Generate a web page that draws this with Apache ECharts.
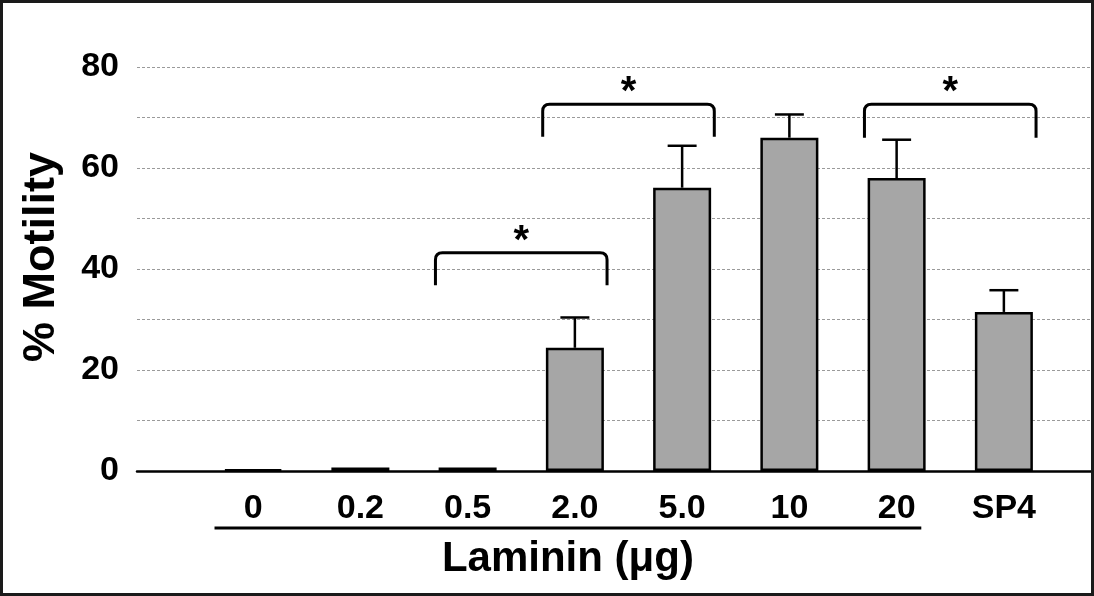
<!DOCTYPE html>
<html>
<head>
<meta charset="utf-8">
<style>
  html, body { margin: 0; padding: 0; background: #fff; }
  #chart { width: 1094px; height: 596px; }
</style>
<script src="https://cdn.jsdelivr.net/npm/echarts@6/dist/echarts.min.js"></script>
</head>
<body>
<div id="chart"></div>
<script>
// Laminin dose groups plus the SP4 condition
const categories = ['0', '0.2', '0.5', '2.0', '5.0', '10', '20', 'SP4'];
// Mean % motility per condition
const motility = [0.3, 0.7, 0.7, 24.4, 56.1, 66.0, 58.0, 31.5];
// Upper error (SD) per condition
const errorUp = [0, 0, 0, 6.0, 8.3, 4.6, 7.6, 4.3];
// Labelled ticks on the value axis
const yTickLabels = [0, 20, 40, 60, 80];
// Significance brackets: [fromIndex, toIndex, topValue, legValue, mark]
const brackets = [
  [2, 3, 43.2, 36.8, '*'],
  [3, 4, 72.6, 66.2, '*'],
  [6, 7, 72.6, 66.0, '*']
];
// Group underline spanning the laminin doses: [fromIndex, toIndex, label]
const groups = [[0, 6, 'Laminin (μg)']];

const FONT = '"Liberation Sans", Arial, Helvetica, sans-serif';

const chart = echarts.init(document.getElementById('chart'), null, { renderer: 'canvas' });

const option = {
  animation: false,
  backgroundColor: '#fff',
  grid: [
    // background grid: gridlines, value labels, baseline
    { left: 137, right: 2, top: 67, bottom: 125 },
    // bar grid
    { left: 199.5, right: 36.5, top: 67, bottom: 125 }
  ],
  xAxis: [
    {
      gridIndex: 0, type: 'value', min: 0, max: 1,
      axisLine: { show: true, onZero: false, lineStyle: { color: '#000', width: 2.5 } },
      axisTick: { show: false }, axisLabel: { show: false }, splitLine: { show: false }
    },
    {
      gridIndex: 1, type: 'category', data: categories,
      axisLine: { show: false }, axisTick: { show: false },
      axisLabel: {
        margin: 21, color: '#000', fontFamily: FONT, fontWeight: 'bold', fontSize: 34
      }
    }
  ],
  yAxis: [
    {
      gridIndex: 0, type: 'value', min: 0, max: 80, interval: 10,
      axisLine: { show: false }, axisTick: { show: false },
      axisLabel: {
        margin: 18, color: '#000', fontFamily: FONT, fontWeight: 'bold', fontSize: 34,
        formatter: v => (yTickLabels.indexOf(v) >= 0 ? String(v) : '')
      },
      splitLine: {
        show: true,
        lineStyle: { color: '#9a9a9a', width: 1, type: [3, 2] }
      }
    },
    {
      gridIndex: 1, type: 'value', min: 0, max: 80, show: false,
      splitLine: { show: false }
    }
  ],
  graphic: [
    {
      type: 'rect', z: 100, silent: true,
      shape: { x: 1.5, y: 1.5, width: 1091, height: 593 },
      style: { fill: 'none', stroke: '#1a1a1a', lineWidth: 3 }
    },
    {
      type: 'text', x: 42, y: 257, rotation: Math.PI / 2,
      style: {
        text: '% Motility', fill: '#000', font: 'bold 45px ' + FONT,
        align: 'center', verticalAlign: 'middle'
      }
    }
  ],
  series: [
    {
      type: 'bar', xAxisIndex: 1, yAxisIndex: 1,
      data: motility, barWidth: 58,
      itemStyle: { color: '#a6a6a6', borderColor: '#000', borderWidth: 2.5 },
      z: 2
    },
    {
      // error bars above each bar
      type: 'custom', xAxisIndex: 1, yAxisIndex: 1, clip: false, z: 3,
      data: categories.map((c, i) => [i, motility[i], errorUp[i]]),
      encode: { x: 0, y: 1 },
      renderItem: function (params, api) {
        const i = api.value(0), v = api.value(1), e = api.value(2);
        if (!e) return null;
        const base = api.coord([i, v]);
        const top = api.coord([i, v + e]);
        const half = api.size([1, 0])[0] * 0.135;
        const st = { stroke: '#000', lineWidth: 2.5 };
        return {
          type: 'group',
          children: [
            { type: 'line', shape: { x1: base[0], y1: base[1], x2: top[0], y2: top[1] }, style: st },
            { type: 'line', shape: { x1: top[0] - half, y1: top[1], x2: top[0] + half, y2: top[1] }, style: st }
          ]
        };
      }
    },
    {
      // significance brackets with their marks
      type: 'custom', xAxisIndex: 1, yAxisIndex: 1, clip: false, z: 4,
      data: brackets,
      encode: { x: [0, 1], y: [2, 3] },
      renderItem: function (params, api) {
        const from = api.value(0), to = api.value(1);
        const topV = api.value(2), legV = api.value(3);
        const mark = brackets[params.dataIndex][4];
        const w = api.size([1, 0])[0];
        const pL = api.coord([from, topV]);
        const pR = api.coord([to, topV]);
        const yLeg = api.coord([from, legV])[1];
        const x0 = pL[0] - 0.3 * w, x1 = pR[0] + 0.3 * w, yT = pL[1];
        const r = 7;
        const d = 'M' + x0 + ' ' + yLeg +
          ' L' + x0 + ' ' + (yT + r) +
          ' Q' + x0 + ' ' + yT + ' ' + (x0 + r) + ' ' + yT +
          ' L' + (x1 - r) + ' ' + yT +
          ' Q' + x1 + ' ' + yT + ' ' + x1 + ' ' + (yT + r) +
          ' L' + x1 + ' ' + yLeg;
        return {
          type: 'group',
          children: [
            {
              type: 'path', shape: { pathData: d },
              style: { fill: 'none', stroke: '#000', lineWidth: 3, lineJoin: 'round' }
            },
            {
              type: 'text', x: (x0 + x1) / 2, y: yT - 11,
              style: {
                text: mark, fill: '#000', font: 'bold 40px ' + FONT,
                align: 'center', verticalAlign: 'middle'
              }
            }
          ]
        };
      }
    },
    {
      // underline grouping the laminin doses, with the group label
      type: 'custom', xAxisIndex: 1, yAxisIndex: 1, clip: false, z: 4,
      data: groups.map(g => [g[0], g[1]]),
      encode: { x: [0, 1] },
      renderItem: function (params, api) {
        const g = groups[params.dataIndex];
        const w = api.size([1, 0])[0];
        const baseY = api.coord([g[0], 0])[1];
        const x0 = api.coord([g[0], 0])[0] - 0.36 * w;
        const x1 = api.coord([g[1], 0])[0] + 0.23 * w;
        const y = baseY + 57;
        return {
          type: 'group',
          children: [
            { type: 'line', shape: { x1: x0, y1: y, x2: x1, y2: y }, style: { stroke: '#000', lineWidth: 3 } },
            {
              type: 'text', x: (x0 + x1) / 2, y: y + 31,
              style: {
                text: g[2], fill: '#000', font: 'bold 42px ' + FONT,
                align: 'center', verticalAlign: 'middle'
              }
            }
          ]
        };
      }
    }
  ]
};

chart.setOption(option);
</script>
</body>
</html>
